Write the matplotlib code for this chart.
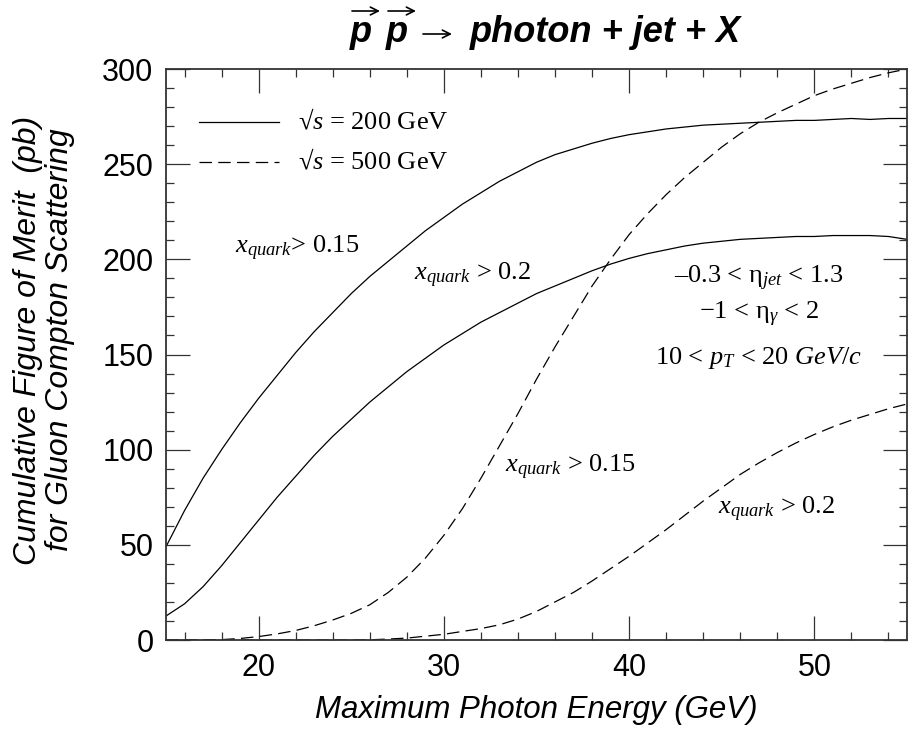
import matplotlib.pyplot as plt
from matplotlib.ticker import MultipleLocator

plt.rcParams['mathtext.fontset'] = 'custom'
plt.rcParams['mathtext.rm'] = 'Liberation Serif'
plt.rcParams['mathtext.it'] = 'Liberation Serif:italic'
plt.rcParams['mathtext.bf'] = 'Liberation Serif:bold'

# cumulative figure of merit (pb) vs maximum photon energy (GeV)
e_200 = list(range(15, 56))
fom_200_q15 = [49, 68, 85, 100, 114, 127, 139, 151, 162, 172, 182, 191, 199, 207,
               215, 222, 229, 235, 241, 246, 251, 255, 258, 261, 263.5, 265.5, 267,
               268.5, 269.5, 270.5, 271, 271.5, 272, 272.5, 273, 273, 273.5, 274,
               273.5, 274, 274]
fom_200_q20 = [12.6, 19, 28, 39, 51, 63, 75, 86, 97, 107, 116, 125, 133, 141, 148,
               155, 161, 167, 172, 177, 182, 186, 190, 194, 197.5, 200.5, 203, 205,
               207, 208.5, 209.5, 210.5, 211, 211.5, 212, 212, 212.5, 212.5, 212.5,
               212, 210.5]

e_500 = list(range(15, 56))
fom_500_q15 = [0, 0, 0, 0.2, 0.8, 1.8, 3.2, 5, 7.5, 10.5, 14, 18.5, 25, 33, 43, 55,
               69, 85, 102, 119, 137, 154, 170, 186, 200, 213, 224, 234, 243, 251,
               259, 266, 272, 277, 281.5, 286, 289.5, 292.5, 295.5, 298, 300]
fom_500_q20 = [0, 0, 0, 0, 0, 0, 0, 0, 0, 0, 0, 0.1, 0.5, 1, 2, 3, 4.5, 6, 8, 11, 15,
               20, 25, 31, 37.5, 44, 51, 58, 65.5, 73, 80, 87, 93, 98.5, 103.5, 108,
               112, 115.5, 118.5, 121.5, 124]

fig = plt.figure(figsize=(9.08, 7.33), dpi=100)
ax = fig.add_axes([166 / 908, 93 / 733, 741 / 908, 571 / 733])

ax.plot(e_200, fom_200_q15, color='black', lw=0.9)
ax.plot(e_200, fom_200_q20, color='black', lw=0.9)
ax.plot(e_500, fom_500_q15, color='black', lw=0.9, dashes=(10, 5))
ax.plot(e_500, fom_500_q20, color='black', lw=0.9, dashes=(10, 5))

ax.set_xlim(15, 55)
ax.set_ylim(0, 300)
ax.xaxis.set_major_locator(MultipleLocator(10))
ax.xaxis.set_minor_locator(MultipleLocator(2))
ax.yaxis.set_major_locator(MultipleLocator(50))
ax.yaxis.set_minor_locator(MultipleLocator(10))
ax.tick_params(which='both', direction='in', top=True, right=True, color='#333333')
ax.tick_params(which='major', length=17, width=0.9, labelsize=22, pad=9)
ax.tick_params(which='minor', length=6, width=0.9)
for lab in ax.get_xticklabels() + ax.get_yticklabels():
    lab.set_family('Liberation Sans')
for sp in ax.spines.values():
    sp.set_linewidth(1.3)
    sp.set_color('#333333')

# legend drawn by hand
ax.plot([16.8, 21.1], [272, 272], color='black', lw=0.9)
ax.plot([16.8, 21.1], [251, 251], color='black', lw=0.9, dashes=(10, 5))
serif = ['Liberation Serif', 'DejaVu Serif']
ax.text(22.1, 272, '\u221a$s$ = 200 GeV', fontsize=19, family=serif, va='center')
ax.text(22.1, 251, '\u221a$s$ = 500 GeV', fontsize=19, family=serif, va='center')

# curve labels
ax.text(18.7, 203, '$x_{quark}$> 0.15', fontsize=19, family=serif)
ax.text(28.4, 189, '$x_{quark}$ > 0.2', fontsize=19, family=serif)
ax.text(33.3, 88, '$x_{quark}$ > 0.15', fontsize=19, family=serif)
ax.text(44.8, 66, '$x_{quark}$ > 0.2', fontsize=19, family=serif)

# kinematic cuts
ax.text(47.0, 190, '\u20130.3 < \u03b7$_{jet}$ < 1.3', fontsize=19, family=serif,
        ha='center', va='center')
ax.text(47.0, 171, '\u22121 < \u03b7$_{\\gamma}$ < 2', fontsize=19, family=serif,
        ha='center', va='center')
ax.text(47.0, 148, '10 < $p_T$ < 20 $GeV/c$', fontsize=19, family=serif,
        ha='center', va='center')

sans = ['Liberation Sans', 'DejaVu Sans']
ax.set_xlabel('Maximum Photon Energy (GeV)', fontsize=22.5, family=sans,
              style='italic', labelpad=9)
fig.text(44 / 908, 1 - 340 / 733,
         'Cumulative Figure of Merit  (pb)\nfor Gluon Compton Scattering',
         fontsize=23, family=sans, style='italic', rotation=90,
         ha='center', va='center', multialignment='center', linespacing=1.12)

# title with polarisation arrows over the protons
ty = 1 - 42 / 733
tkw = dict(fontsize=26, family=sans, weight='bold', style='italic')
fig.text(350 / 908, ty, 'p', **tkw)
fig.text(386 / 908, ty, 'p', **tkw)
ax.annotate('', xy=(452, 733 - 34), xytext=(423, 733 - 34),
            xycoords='figure pixels', textcoords='figure pixels',
            arrowprops=dict(arrowstyle='->', lw=1.2, color='black',
                            mutation_scale=14, shrinkA=0, shrinkB=0))
fig.text(470 / 908, ty, 'photon + jet + X', **tkw)
for x0 in (352, 388):
    ax.annotate('', xy=(x0 + 28, 733 - 11), xytext=(x0, 733 - 11),
                xycoords='figure pixels', textcoords='figure pixels',
                arrowprops=dict(arrowstyle='->', lw=1.2, color='black',
                                mutation_scale=14, shrinkA=0, shrinkB=0))

fig.savefig('out.png', dpi=100)
